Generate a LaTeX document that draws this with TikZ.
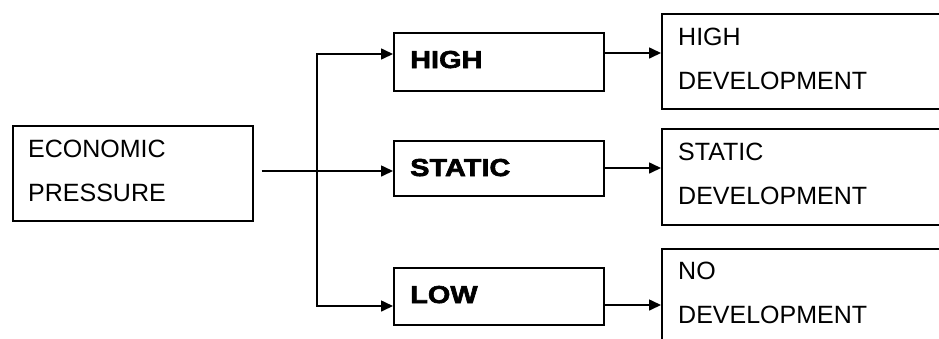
\documentclass[tikz,border=0pt]{standalone}
\usepackage{fontspec}
\setmainfont{Liberation Sans}
\newfontfamily\heavy[FakeStretch=1.18,FakeBold=2.5]{Liberation Sans Bold}
\usetikzlibrary{arrows.meta}
\begin{document}
\begin{tikzpicture}[x=1pt,y=-1pt,
  box/.style={draw, line width=1.6pt, inner sep=0pt, anchor=north west},
  txt/.style={anchor=base west, inner sep=0pt, font=\fontsize{25}{29}\selectfont},
  btxt/.style={anchor=base west, inner sep=0pt, font=\heavy\fontsize{24.5}{29}\selectfont},
  arr/.style={line width=1.6pt, -{Triangle[length=12pt,width=11pt]}}]
\useasboundingbox (0,0) rectangle (939,338);
\clip (0,0) rectangle (939,338);
% boxes
\node[box, minimum width=240pt, minimum height=95pt] (ep) at (12,125) {};
\node[box, minimum width=210pt, minimum height=58pt] (high) at (393,32) {};
\node[box, minimum width=210pt, minimum height=55pt] (static) at (393,140) {};
\node[box, minimum width=210pt, minimum height=57pt] (low) at (393,267) {};
\node[box, minimum width=300pt, minimum height=95pt] (hd) at (661,13) {};
\node[box, minimum width=300pt, minimum height=96pt] (sd) at (661,128) {};
\node[box, minimum width=300pt, minimum height=120pt] (nd) at (661,248) {};
% texts
\node[txt] (t1) at (28,157) {ECONOMIC};
\node[txt] (t2) at (28,201) {PRESSURE};
\node[btxt] (t3) at (410,68) {HIGH};
\node[btxt] (t4) at (410,176) {STATIC};
\node[btxt] (t5) at (410,303) {LOW};
\node[txt] (t6) at (678,45) {HIGH};
\node[txt] (t7) at (678,89) {DEVELOPMENT};
\node[txt] (t8) at (678,160) {STATIC};
\node[txt] (t9) at (678,204) {DEVELOPMENT};
\node[txt] (t10) at (678,279) {NO};
\node[txt] (t11) at (678,323) {DEVELOPMENT};
% connectors
\coordinate (j) at (317,171);
\coordinate (yh) at (0,54);
\coordinate (yl) at (0,306);
\coordinate (yh2) at (0,53);
\coordinate (ys2) at (0,168);
\coordinate (yl2) at (0,305);
\draw[arr, shorten <=8pt] (ep.east |- j) -- (static.west |- j);
\draw[arr] (j) |- (high.west |- yh);
\draw[arr] (j) |- (low.west |- yl);
\draw[arr] (high.east |- yh2) -- (hd.west |- yh2);
\draw[arr] (static.east |- ys2) -- (sd.west |- ys2);
\draw[arr] (low.east |- yl2) -- (nd.west |- yl2);
\end{tikzpicture}
\end{document}
